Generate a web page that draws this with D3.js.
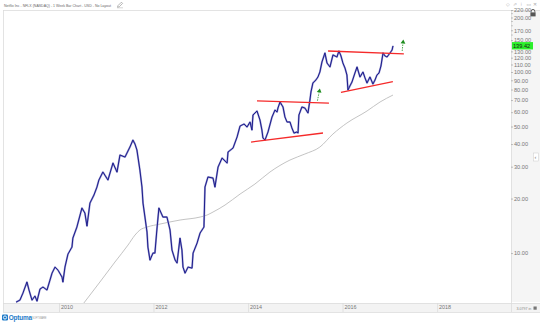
<!DOCTYPE html>
<html>
<head>
<meta charset="utf-8">
<script src="https://cdn.jsdelivr.net/npm/d3@7"></script>
<style>
  html, body { margin: 0; padding: 0; background: #fff; }
  svg { display: block; font-family: "Liberation Sans", Arial, sans-serif; }
</style>
</head>
<body>
<svg id="chart" width="540" height="322"></svg>
<script>
// NFLX weekly closes (split adjusted), [week, close]
const weeklyClose = [
  ["2009-02-03",5.36],["2009-03-05",5.50],["2009-03-28",6.01],["2009-04-28",6.92],["2009-05-14",6.25],
  ["2009-06-06",5.50],["2009-06-29",5.79],["2009-07-15",5.43],["2009-08-07",6.33],["2009-08-30",6.49],
  ["2009-09-30",6.25],["2009-10-23",7.09],["2009-11-08",7.75],["2009-12-01",8.37],["2009-12-24",8.05],
  ["2010-01-24",7.37],["2010-01-31",6.92],["2010-02-16",8.37],["2010-03-11",9.87],["2010-04-11",10.79],
  ["2010-04-18",12.10],["2010-05-19",13.92],["2010-06-27",17.73],["2010-07-20",16.63],["2010-08-05",14.10],
  ["2010-08-28",18.89],["2010-09-28",20.92],["2010-10-21",23.15],["2010-11-05",25.31],["2010-12-06",28.03],
  ["2011-01-14",25.31],["2011-02-22",31.43],["2011-03-25",28.03],["2011-04-17",34.79],["2011-05-26",33.92],
  ["2011-07-03",38.51],["2011-07-26",42.10],["2011-08-11",40.01],["2011-08-26",37.08],["2011-09-18",28.75],
  ["2011-10-04",23.15],["2011-10-12",18.89],["2011-10-27",15.81],["2011-11-12",13.06],["2011-11-19",10.79],
  ["2011-12-05",9.15],["2011-12-28",10.00],["2012-01-12",10.00],["2012-01-27",13.40],["2012-02-12",17.73],
  ["2012-03-14",15.81],["2012-04-14",15.81],["2012-05-08",13.40],["2012-05-23",10.39],["2012-06-16",9.15],
  ["2012-07-01",8.81],["2012-07-24",12.10],["2012-08-08",10.39],["2012-08-16",8.37],["2012-09-01",7.75],
  ["2012-09-24",8.37],["2012-10-25",8.26],["2012-11-02",10.00],["2012-12-03",11.36],["2012-12-26",12.90],
  ["2013-01-25",13.92],["2013-02-02",23.15],["2013-02-25",26.30],["2013-04-05",25.96],["2013-04-20",23.15],
  ["2013-05-14",29.87],["2013-06-14",33.49],["2013-07-23",31.43],["2013-07-30",36.14],["2013-09-07",38.03],
  ["2013-10-08",43.74],["2013-10-31",50.32],["2013-12-01",51.62],["2013-12-24",49.68],["2014-01-16",52.95],
  ["2014-01-31",47.82],["2014-02-08",57.88],["2014-03-11",60.89],["2014-04-03",54.31],["2014-04-18",47.82],
  ["2014-04-26",43.19],["2014-05-12",42.10],["2014-06-04",46.62],["2014-07-05",56.42],["2014-07-28",61.67],
  ["2014-08-13",60.12],["2014-08-20",63.26],["2014-09-05",68.30],["2014-09-28",64.07],["2014-10-13",56.42],
  ["2014-10-29",52.95],["2014-11-21",52.95],["2014-12-06",49.05],["2014-12-22",46.03],["2015-01-14",46.62],
  ["2015-01-22",46.03],["2015-01-29",57.88],["2015-02-21",64.07],["2015-03-16",63.26],["2015-04-09",59.37],
  ["2015-04-24",70.03],["2015-05-02",77.55],["2015-05-17",86.95],["2015-06-09",90.33],["2015-06-25",93.85],
  ["2015-07-10",100.0],["2015-07-26",113.6],["2015-08-18",127.4],["2015-09-03",112.1],["2015-09-26",106.6],
  ["2015-10-19",124.2],["2015-11-19",121.0],["2015-12-04",130.6],["2015-12-20",122.6],["2016-01-04",112.1],
  ["2016-01-20",105.2],["2016-02-04",96.26],["2016-02-12",79.55],["2016-02-27",83.69],["2016-03-14",88.06],
  ["2016-04-06",98.75],["2016-04-22",106.6],["2016-05-15",93.85],["2016-06-07",100.0],["2016-06-23",92.66],
  ["2016-07-08",86.95],["2016-07-31",93.85],["2016-08-23",85.84],["2016-09-08",90.33],["2016-09-23",96.26],
  ["2016-10-09",98.75],["2016-10-24",107.9],["2016-11-09",127.4],["2016-11-24",122.6],["2016-12-10",121.0],
  ["2017-01-02",127.4],["2017-01-18",132.3],["2017-01-25",139.42]
];

// Long-term moving average, [week, value]
const movingAverage = [
  ["2010-07-12",5.30],["2010-11-13",6.92],["2011-03-09",8.92],["2011-06-18",11.07],["2011-08-11",12.57],
  ["2011-09-18",13.40],["2011-11-12",13.92],["2012-02-20",14.46],["2012-07-24",15.22],["2012-12-26",15.81],
  ["2013-02-18",16.22],["2013-04-05",16.85],["2013-07-07",18.42],["2013-10-31",21.18],["2014-02-23",24.06],
  ["2014-06-19",28.03],["2014-11-21",32.65],["2015-03-16",35.24],["2015-07-10",38.51],["2015-10-19",45.45],
  ["2016-02-04",52.27],["2016-07-08",60.89],["2016-10-17",68.30],["2017-01-25",74.60]
];

// Hand-drawn channel lines, [start week, start price, end week, end price]
const trendLines = [
  ["2014-03-11",69.2,"2015-09-18",67.4],
  ["2014-01-24",41.05,"2015-08-03",46.03],
  ["2015-09-11",130.6,"2017-04-19",125.8],
  ["2015-12-20",77.2,"2017-01-24",88.4]
];

// Breakout arrows, [tail week, tail price, tip week, tip price]
const breakoutArrows = [
  ["2015-06-21",69.4,"2015-07-10",81.1],
  ["2017-04-06",130.6,"2017-04-15",151.2]
];

const yTickValues = [220,200,170,150,130,120,110,100,90,80,70,60,50,40,30,20,10];
const yMinorTicks = [210,190,180,160];
const xTickYears = ["2010","2012","2014","2016","2018"];
const lastPrice = 139.42;
const titleText = "Netflix Inc - NFLX (NASDAQ) - 1 Week Bar Chart - USD - No Layout";

const parse = d3.timeParse("%Y-%m-%d");
const svg = d3.select("#chart");
const W = 540, H = 322;
const plot = { left: 3, right: 511, top: 10, bottom: 303 };

const x = d3.scaleTime()
  .domain([parse("2008-10-25"), parse("2019-07-26")])
  .range([plot.left, plot.right]);
const y = d3.scaleLog()
  .domain([5.3, 220])
  .range([plot.bottom, plot.top]);

// panels
svg.append("rect").attr("x", 0).attr("y", 0).attr("width", W).attr("height", H).attr("fill", "#fff");
svg.append("rect").attr("x", plot.right).attr("y", plot.top).attr("width", W - plot.right).attr("height", 302 - plot.top)
  .attr("fill", "#f5f5f5");
svg.append("rect").attr("x", plot.left).attr("y", plot.bottom).attr("width", W - plot.left).attr("height", 9)
  .attr("fill", "#f3f3f3");

const frame = svg.append("g").attr("stroke", "#dcdcdc").attr("stroke-width", 0.8).attr("fill", "none");
frame.append("line").attr("x1", plot.left).attr("x2", W).attr("y1", plot.top + 0.5).attr("y2", plot.top + 0.5);
frame.append("line").attr("x1", plot.left + 0.5).attr("x2", plot.left + 0.5).attr("y1", plot.top).attr("y2", 312);
frame.append("line").attr("x1", plot.left).attr("x2", W).attr("y1", plot.bottom + 0.5).attr("y2", plot.bottom + 0.5);
frame.append("line").attr("x1", plot.left).attr("x2", W).attr("y1", 312.5).attr("y2", 312.5);
frame.append("line").attr("x1", plot.right + 0.5).attr("x2", plot.right + 0.5).attr("y1", plot.top).attr("y2", 312);

// title bar with edit pencil
svg.append("text").attr("x", 4).attr("y", 6.6).attr("font-size", 4.3).attr("fill", "#666")
  .attr("textLength", 107).attr("lengthAdjust", "spacingAndGlyphs").text(titleText);
svg.append("path").attr("d", "M117.5,7.2L118,5.6L121.4,2.2L122.6,3.4L119.2,6.8Z")
  .attr("fill", "none").attr("stroke", "#888").attr("stroke-width", 0.6);
svg.append("line").attr("x1", 117).attr("x2", 123).attr("y1", 7.8).attr("y2", 7.8).attr("stroke", "#aaa").attr("stroke-width", 0.5);

const winIcons = [["◇", 506], ["⇗", 513], ["⁝", 520.5], ["▭", 526.5], ["✕", 533]];
svg.append("g").selectAll("text").data(winIcons).join("text")
  .attr("x", d => d[1]).attr("y", 5.8).attr("font-size", 4.8).attr("fill", "#aaa")
  .attr("font-family", "DejaVu Sans").text(d => d[0]);

// clip
svg.append("clipPath").attr("id", "plotClip").append("rect")
  .attr("x", plot.left + 1).attr("y", plot.top + 1)
  .attr("width", plot.right - plot.left - 1).attr("height", plot.bottom - plot.top - 1);
const g = svg.append("g").attr("clip-path", "url(#plotClip)");

// moving average
const maLine = d3.line().x(d => x(parse(d[0]))).y(d => y(d[1])).curve(d3.curveMonotoneX);
g.append("path").datum(movingAverage).attr("d", maLine)
  .attr("fill", "none").attr("stroke", "#b4b4b4").attr("stroke-width", 0.8);

// price
const priceLine = d3.line().x(d => x(parse(d[0]))).y(d => y(d[1]));
g.append("path").datum(weeklyClose).attr("d", priceLine)
  .attr("fill", "none").attr("stroke", "#9c9cd2").attr("stroke-width", 1.9).attr("stroke-linejoin", "round");
g.append("path").datum(weeklyClose).attr("d", priceLine)
  .attr("fill", "none").attr("stroke", "#1d1d8c").attr("stroke-width", 1.0).attr("stroke-linejoin", "round");

// channel lines
g.append("g").selectAll("line").data(trendLines).join("line")
  .attr("x1", d => x(parse(d[0]))).attr("y1", d => y(d[1]))
  .attr("x2", d => x(parse(d[2]))).attr("y2", d => y(d[3]))
  .attr("stroke", "#f52a2a").attr("stroke-width", 1.3);

// breakout arrows
const arrows = g.append("g");
breakoutArrows.forEach(d => {
  const x0 = x(parse(d[0])), y0 = y(d[1]), x1 = x(parse(d[2])), y1 = y(d[3]);
  const ang = Math.atan2(y1 - y0, x1 - x0);
  const headLen = 4, headHalf = 2.4;
  const bx = x1 - headLen * Math.cos(ang), by = y1 - headLen * Math.sin(ang);
  arrows.append("line").attr("x1", x0).attr("y1", y0).attr("x2", bx).attr("y2", by)
    .attr("stroke", "#3aa03a").attr("stroke-width", 0.9).attr("stroke-dasharray", "1.5,1");
  const px = -Math.sin(ang), py = Math.cos(ang);
  arrows.append("path")
    .attr("d", `M${x1},${y1}L${bx + px * headHalf},${by + py * headHalf}L${bx - px * headHalf},${by - py * headHalf}Z`)
    .attr("fill", "#1e8c1e");
});

// right price axis
const yAxis = d3.axisRight(y).tickValues(yTickValues).tickFormat(d3.format(".2f")).tickSize(2).tickPadding(1);
const ya = svg.append("g").attr("transform", `translate(${plot.right},0)`).call(yAxis);
ya.select(".domain").remove();
ya.selectAll(".tick line").attr("stroke", "#999").attr("stroke-width", 0.6);
ya.selectAll(".tick text").attr("font-size", 5.6).attr("fill", "#777").attr("font-family", "Liberation Sans, Arial");
svg.append("g").selectAll("line").data(yMinorTicks).join("line")
  .attr("x1", plot.right).attr("x2", plot.right + 2)
  .attr("y1", d => y(d)).attr("y2", d => y(d)).attr("stroke", "#aaa").attr("stroke-width", 0.6);

// last price tag
const ly = y(lastPrice);
svg.append("rect").attr("x", plot.right + 1).attr("y", ly - 3.8).attr("width", 21).attr("height", 7.4).attr("fill", "#2bef2b");
svg.append("text").attr("x", plot.right + 2).attr("y", ly + 2).attr("font-size", 5.6).attr("fill", "#1a1a1a")
  .text(d3.format(".2f")(lastPrice));

// lock icon
const lock = svg.append("g").attr("transform", "translate(530,9)");
lock.append("path").attr("d", "M1.2,3.5V2.2a1.8,1.8 0 0 1 3.6,0V3.5").attr("fill", "none").attr("stroke", "#555").attr("stroke-width", 0.9);
lock.append("rect").attr("x", 0.4).attr("y", 3.4).attr("width", 5.2).attr("height", 4).attr("fill", "#555");

// collapse tab on the right edge
svg.append("rect").attr("x", 533.5).attr("y", 153).attr("width", 5).attr("height", 8).attr("fill", "#fff").attr("stroke", "#ccc").attr("stroke-width", 0.5);
svg.append("text").attr("x", 534.6).attr("y", 159).attr("font-size", 5.5).attr("fill", "#777").text("‹");

// time axis
const xAxis = d3.axisBottom(x).tickValues(xTickYears.map(s => parse(s + "-01-01")))
  .tickFormat(d3.timeFormat("%Y")).tickSize(9).tickPadding(0);
const xa = svg.append("g").attr("transform", `translate(0,${plot.bottom})`).call(xAxis);
xa.select(".domain").remove();
xa.selectAll(".tick line").attr("stroke", "#d8d8d8").attr("stroke-width", 0.7);
xa.selectAll(".tick text").attr("x", 1.5).attr("y", 6.3).attr("dy", 0).attr("text-anchor", "start")
  .attr("font-size", 5.4).attr("fill", "#777").attr("font-family", "Liberation Sans, Arial");

// scale readout
svg.append("text").attr("x", 516.5).attr("y", 309.8).attr("font-size", 3.6).attr("fill", "#888").text("3.0797 in");
svg.append("rect").attr("x", 533.5).attr("y", 306.5).attr("width", 3.2).attr("height", 3.2).attr("fill", "#777");

// logo
const logo = svg.append("g").attr("transform", "translate(2,314)");
logo.append("rect").attr("x", 0).attr("y", 0.5).attr("width", 6).attr("height", 6).attr("rx", 1.2).attr("fill", "#1d7ac8");
logo.append("circle").attr("cx", 3).attr("cy", 3.5).attr("r", 1.6).attr("fill", "none").attr("stroke", "#fff").attr("stroke-width", 0.9);
logo.append("text").attr("x", 6.8).attr("y", 6.2).attr("font-size", 6.4).attr("fill", "#1d7ac8").attr("font-weight", "bold")
  .attr("letter-spacing", -0.2).text("Optuma");
logo.append("text").attr("x", 30).attr("y", 5).attr("font-size", 2.6).attr("fill", "#999").text("SOFTWARE");
</script>
</body>
</html>
